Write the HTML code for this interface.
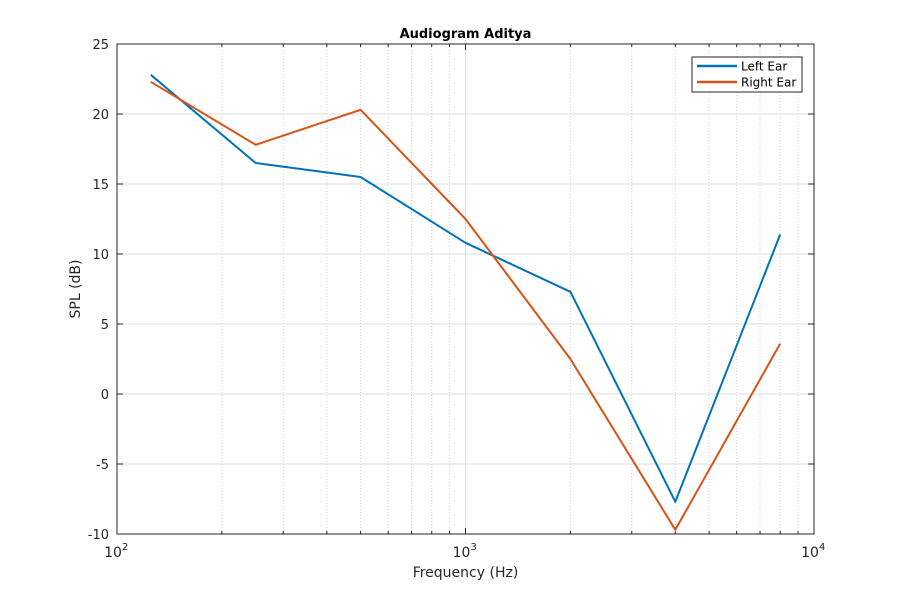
<!DOCTYPE html>
<html><head><meta charset="utf-8"><style>
body{margin:0;background:#fff;}
svg{display:block;font-family:"DejaVu Sans","Liberation Sans",sans-serif;}
</style></head><body>
<svg id="chart" width="900" height="600">
<rect width="900" height="600" fill="#fff"/>
<g id="grid"></g><g id="axes"></g><g id="series"></g>
<text x="465.5" y="38" text-anchor="middle" font-size="13" font-weight="bold" fill="#000">Audiogram Aditya</text>
<text x="465.5" y="577" text-anchor="middle" font-size="14" fill="#262626">Frequency (Hz)</text>
<text transform="translate(80,289) rotate(-90)" text-anchor="middle" font-size="14" fill="#262626">SPL (dB)</text>
<g>
<rect x="692" y="57" width="110" height="35" fill="#fff" stroke="#262626" stroke-width="1"/>
<line x1="697" y1="66" x2="737" y2="66" stroke="#0072BD" stroke-width="2.5"/>
<text x="741" y="70.5" font-size="12" fill="#000">Left Ear</text>
<line x1="697" y1="82" x2="737" y2="82" stroke="#D95319" stroke-width="2.5"/>
<text x="741" y="86.5" font-size="12" fill="#000">Right Ear</text>
</g>
</svg>
<script>
const freqs=[125,250,500,1000,2000,4000,8000];
const leftEar=[22.8,16.5,15.5,10.8,7.3,-7.7,11.4];
const rightEar=[22.3,17.8,20.3,12.5,2.5,-9.7,3.6];
const yTicks=[-10,-5,0,5,10,15,20,25];
const xDecades=[2,3,4];
const xTickLabels=['10','10','10'];
const L=117,R=814,T=44,B=534;
const xs=f=>L+(Math.log10(f)-2)/2*(R-L);
const ys=v=>B-(v+10)/35*(B-T);
const NS='http://www.w3.org/2000/svg';
function mk(tag,attrs,parent){const e=document.createElementNS(NS,tag);for(const k in attrs)e.setAttribute(k,attrs[k]);parent.appendChild(e);return e;}
const grid=document.getElementById('grid'),axes=document.getElementById('axes'),series=document.getElementById('series');
for(let d=100;d<10000;d*=10){for(let m=2;m<=9;m++){const x=xs(d*m);
const g=mk('line',{x1:x,x2:x,y1:T,y2:B,stroke:'#d0d0d0','stroke-width':1,'stroke-dasharray':'1,2'},grid);


mk('line',{x1:x,x2:x,y1:B,y2:B-3,stroke:'#262626'},axes);mk('line',{x1:x,x2:x,y1:T,y2:T+3,stroke:'#262626'},axes);}}
xDecades.forEach((p,i)=>{const x=xs(Math.pow(10,p));
const g=mk('line',{x1:x,x2:x,y1:T,y2:B,stroke:'#dcdcdc','stroke-width':1},grid);


mk('line',{x1:x,x2:x,y1:B,y2:B-6,stroke:'#262626'},axes);mk('line',{x1:x,x2:x,y1:T,y2:T+6,stroke:'#262626'},axes);
const t=mk('text',{x:x-4,y:557,'text-anchor':'middle','font-size':14,fill:'#262626'},axes);
t.textContent=xTickLabels[i];


const s=mk('text',{x:x+5,y:550,'font-size':10,fill:'#262626'},axes);s.textContent=String(p);});
yTicks.forEach(v=>{const y=ys(v);
const g=mk('line',{x1:L,x2:R,y1:y,y2:y,stroke:'#dcdcdc','stroke-width':1},grid);


mk('line',{x1:L,x2:L+6,y1:y,y2:y,stroke:'#262626'},axes);mk('line',{x1:R,x2:R-6,y1:y,y2:y,stroke:'#262626'},axes);
const t=mk('text',{x:L-8,y:y+5,'text-anchor':'end','font-size':13,fill:'#262626'},axes);t.textContent=String(v);

});
const box=mk('rect',{x:L,y:T,width:R-L,height:B-T,fill:'none',stroke:'#262626','stroke-width':1},axes);


function line(vals,color,name){const pts=freqs.map((f,i)=>xs(f)+','+ys(vals[i])).join(' ');
const p=mk('polyline',{points:pts,fill:'none',stroke:color,'stroke-width':2,'stroke-linejoin':'round'},series);

}
line(leftEar,'#0072BD','left-ear-line');
line(rightEar,'#D95319','right-ear-line');
</script>
</body></html>
